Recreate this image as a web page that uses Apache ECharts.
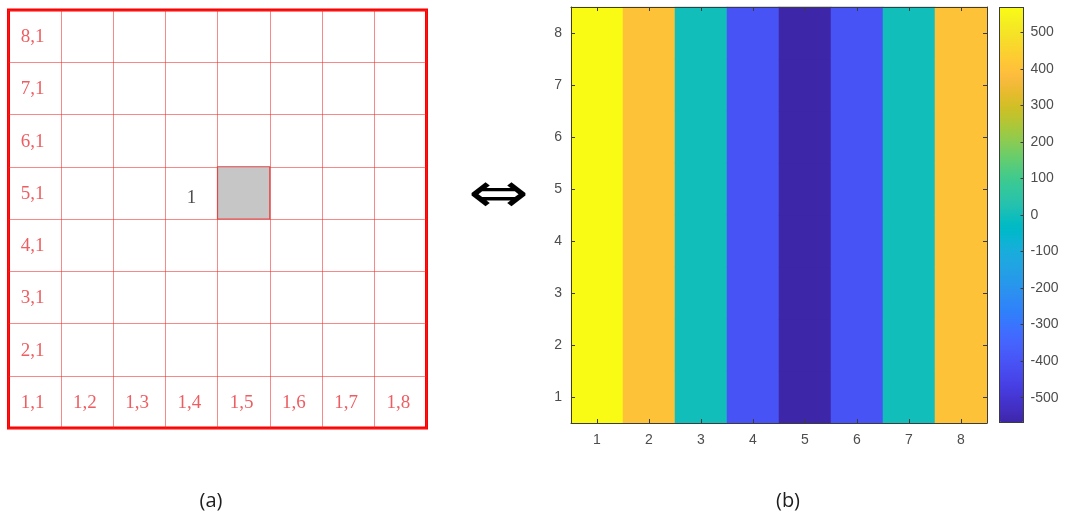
<!DOCTYPE html>
<html>
<head>
<meta charset="utf-8">
<script src="https://cdn.jsdelivr.net/npm/echarts@6/dist/echarts.min.js"></script>
<style>
  html, body { margin: 0; padding: 0; background: #ffffff; }
  #chart { width: 1065px; height: 517px; }
</style>
</head>
<body>
<div id="chart"></div>
<script>
// ---- data -------------------------------------------------------------
// 8 x 8 cell indices shared by both panels
const cellIndex = ['1', '2', '3', '4', '5', '6', '7', '8'];
// panel (a): labels in the left column (bottom to top) and the bottom row
const leftColumnLabels = ['1,1', '2,1', '3,1', '4,1', '5,1', '6,1', '7,1', '8,1'];
const bottomRowLabels = ['1,1', '1,2', '1,3', '1,4', '1,5', '1,6', '1,7', '1,8'];
// shaded cell (zero-based column, row) and the cell marked "1"
const shadedCell = [4, 4];
const markedCell = [3, 4, '1'];
// panel (b): value of each column (constant along the rows)
const columnValues = [568, 402, 0, -402, -568, -402, 0, 402];
// colour bar limits and ticks
const colorRange = [-568, 568];
const colorbarTicks = [-500, -400, -300, -200, -100, 0, 100, 200, 300, 400, 500];

// ---- parula colormap -------------------------------------------------
const parulaRGB = [
  [0.2422,0.1504,0.6603],[0.2504,0.1650,0.7076],[0.2578,0.1818,0.7511],[0.2647,0.1978,0.7952],
  [0.2706,0.2147,0.8364],[0.2751,0.2342,0.8710],[0.2783,0.2559,0.8991],[0.2803,0.2782,0.9221],
  [0.2813,0.3006,0.9414],[0.2810,0.3228,0.9579],[0.2795,0.3447,0.9717],[0.2760,0.3667,0.9829],
  [0.2699,0.3892,0.9906],[0.2602,0.4123,0.9952],[0.2440,0.4358,0.9988],[0.2206,0.4603,0.9973],
  [0.1963,0.4847,0.9892],[0.1834,0.5074,0.9798],[0.1786,0.5289,0.9682],[0.1764,0.5499,0.9520],
  [0.1687,0.5703,0.9359],[0.1540,0.5902,0.9218],[0.1460,0.6091,0.9079],[0.1380,0.6276,0.8973],
  [0.1248,0.6459,0.8883],[0.1113,0.6635,0.8763],[0.0952,0.6798,0.8598],[0.0689,0.6948,0.8394],
  [0.0297,0.7082,0.8163],[0.0036,0.7203,0.7917],[0.0067,0.7312,0.7660],[0.0433,0.7411,0.7394],
  [0.0964,0.7500,0.7120],[0.1408,0.7584,0.6842],[0.1717,0.7670,0.6554],[0.1938,0.7758,0.6251],
  [0.2161,0.7843,0.5923],[0.2470,0.7918,0.5567],[0.2906,0.7973,0.5188],[0.3406,0.8008,0.4789],
  [0.3909,0.8029,0.4354],[0.4456,0.8024,0.3909],[0.5044,0.7993,0.3480],[0.5616,0.7942,0.3045],
  [0.6174,0.7876,0.2612],[0.6720,0.7793,0.2227],[0.7242,0.7698,0.1910],[0.7738,0.7598,0.1646],
  [0.8203,0.7498,0.1535],[0.8634,0.7406,0.1596],[0.9035,0.7330,0.1774],[0.9393,0.7288,0.2100],
  [0.9728,0.7298,0.2394],[0.9956,0.7434,0.2371],[0.9970,0.7659,0.2199],[0.9952,0.7893,0.2028],
  [0.9892,0.8136,0.1885],[0.9786,0.8386,0.1766],[0.9676,0.8639,0.1643],[0.9610,0.8890,0.1537],
  [0.9597,0.9135,0.1423],[0.9628,0.9373,0.1265],[0.9691,0.9606,0.1064],[0.9769,0.9839,0.0805]
];
const parula = parulaRGB.map(c => 'rgb(' + c.map(v => Math.round(v * 255)).join(',') + ')');

// ---- derived series data ----------------------------------------------
const heatData = [];
columnValues.forEach((v, c) => {
  cellIndex.forEach((_, r) => heatData.push([c, r, v]));
});
const cellLabelData = [];
bottomRowLabels.forEach((t, c) => cellLabelData.push([c, 0, t]));
leftColumnLabels.forEach((t, r) => { if (r > 0) cellLabelData.push([0, r, t]); });

// ---- styles ----------------------------------------------------------
const RED = '#ff0000';
const LABEL_RED = '#e8343a';
const AXIS_DARK = '#3c3c3c';
const TICK_TEXT = '#4d4d4d';
const sansFont = '"Liberation Sans", Arial, sans-serif';
const serifFont = '"Liberation Serif", "DejaVu Serif", serif';

const chart = echarts.init(document.getElementById('chart'), null, { renderer: 'canvas' });

// axis drawn as one side of a boxed plot (MATLAB style), above the cells
const boxAxis = (extra) => Object.assign({
  axisLine: { show: true, onZero: false, lineStyle: { color: AXIS_DARK, width: 1 } },
  splitLine: { show: false },
  z: 10
}, extra);

const cellGridLines = { show: true, interval: 0, lineStyle: { color: 'rgba(240,40,40,0.55)', width: 1 } };

chart.setOption({
  animation: false,
  backgroundColor: '#ffffff',
  grid: [
    { left: 8.5, top: 10, width: 418, height: 418, show: true, borderColor: RED, borderWidth: 3, backgroundColor: 'transparent' },
    { left: 571, top: 7, width: 416, height: 416, show: false },
    { left: 999.5, top: 7.5, width: 24, height: 415, show: false }
  ],
  xAxis: [
    { gridIndex: 0, type: 'category', data: cellIndex, boundaryGap: true,
      axisLine: { show: false }, axisTick: { show: false }, axisLabel: { show: false },
      splitLine: cellGridLines },
    boxAxis({ gridIndex: 1, type: 'category', data: cellIndex, position: 'bottom', boundaryGap: true,
      axisTick: { show: true, inside: true, alignWithLabel: true, length: 4, lineStyle: { color: AXIS_DARK } },
      axisLabel: { show: true, color: TICK_TEXT, fontSize: 14, fontFamily: sansFont, margin: 10 } }),
    boxAxis({ gridIndex: 1, type: 'category', data: cellIndex, position: 'top', boundaryGap: true,
      axisTick: { show: true, inside: true, alignWithLabel: true, length: 4, lineStyle: { color: AXIS_DARK } },
      axisLabel: { show: false } }),
    boxAxis({ gridIndex: 2, type: 'value', min: 0, max: 1, position: 'bottom',
      axisTick: { show: false }, axisLabel: { show: false } }),
    boxAxis({ gridIndex: 2, type: 'value', min: 0, max: 1, position: 'top',
      axisTick: { show: false }, axisLabel: { show: false } })
  ],
  yAxis: [
    { gridIndex: 0, type: 'category', data: cellIndex, boundaryGap: true,
      axisLine: { show: false }, axisTick: { show: false }, axisLabel: { show: false },
      splitLine: cellGridLines },
    boxAxis({ gridIndex: 1, type: 'category', data: cellIndex, position: 'left', boundaryGap: true,
      axisTick: { show: true, inside: true, alignWithLabel: true, length: 4, lineStyle: { color: AXIS_DARK } },
      axisLabel: { show: true, color: TICK_TEXT, fontSize: 14, fontFamily: sansFont, margin: 9 } }),
    boxAxis({ gridIndex: 1, type: 'category', data: cellIndex, position: 'right', boundaryGap: true,
      axisTick: { show: true, inside: true, alignWithLabel: true, length: 4, lineStyle: { color: AXIS_DARK } },
      axisLabel: { show: false } }),
    boxAxis({ gridIndex: 2, type: 'value', min: colorRange[0], max: colorRange[1], position: 'left',
      axisTick: { show: false }, axisLabel: { show: false } }),
    boxAxis({ gridIndex: 2, type: 'value', min: colorRange[0], max: colorRange[1], position: 'right',
      axisTick: { show: true, inside: true, length: 3, customValues: colorbarTicks, lineStyle: { color: AXIS_DARK } },
      axisLabel: { show: true, customValues: colorbarTicks, color: TICK_TEXT, fontSize: 14, fontFamily: sansFont, margin: 7 } })
  ],
  visualMap: {
    type: 'continuous',
    seriesIndex: 0,
    min: colorRange[0],
    max: colorRange[1],
    calculable: false,
    hoverLink: false,
    orient: 'vertical',
    left: 999.5,
    top: 7.5,
    itemWidth: 24,
    itemHeight: 415,
    padding: 0,
    inRange: { color: parula },
    z: 1
  },
  series: [
    {
      type: 'heatmap',
      xAxisIndex: 1, yAxisIndex: 1,
      data: heatData,
      itemStyle: { borderWidth: 0 },
      emphasis: { disabled: true },
      progressive: 0
    },
    {
      type: 'custom',
      xAxisIndex: 0, yAxisIndex: 0,
      data: [shadedCell],
      renderItem: function (params, api) {
        const p = api.coord([api.value(0), api.value(1)]);
        const s = api.size([1, 1]);
        return {
          type: 'rect',
          shape: { x: p[0] - s[0] / 2, y: p[1] - s[1] / 2, width: s[0], height: s[1] },
          style: { fill: '#c6c6c6', stroke: '#e04848', lineWidth: 1.2 }
        };
      },
      z: 3
    },
    {
      type: 'scatter',
      xAxisIndex: 0, yAxisIndex: 0,
      data: cellLabelData,
      symbolSize: 0,
      label: {
        show: true, position: 'inside',
        formatter: p => p.value[2],
        color: LABEL_RED, fontSize: 19, fontFamily: serifFont,
        offset: [-2, 1]
      },
      z: 4
    },
    {
      type: 'scatter',
      xAxisIndex: 0, yAxisIndex: 0,
      data: [markedCell],
      symbolSize: 0,
      label: {
        show: true, position: 'inside',
        formatter: p => p.value[2],
        color: '#222222', fontSize: 19, fontFamily: serifFont,
        offset: [0, 5]
      },
      z: 4
    }
  ],
  graphic: [
    { type: 'text', x: 468, y: 197, scaleX: 1.3, scaleY: 1.0,
      style: { text: '\u21D4', fontSize: 56, fontFamily: '"DejaVu Sans", sans-serif', fill: '#000000', verticalAlign: 'middle' } },
    { type: 'text', x: 211, y: 501,
      style: { text: '(a)', fontSize: 20, fontFamily: '"Open Sans", "Noto Sans", sans-serif', fill: '#1e1e1e', align: 'center', verticalAlign: 'middle' } },
    { type: 'text', x: 788, y: 501,
      style: { text: '(b)', fontSize: 20, fontFamily: '"Open Sans", "Noto Sans", sans-serif', fill: '#1e1e1e', align: 'center', verticalAlign: 'middle' } }
  ]
});
</script>
</body>
</html>
